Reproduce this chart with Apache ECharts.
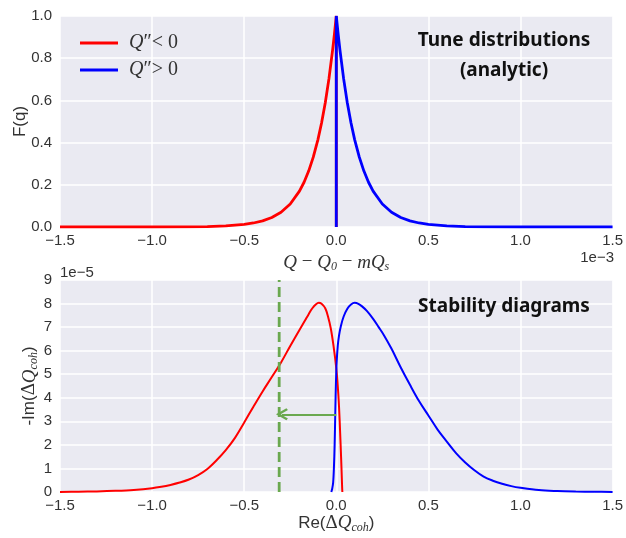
<!DOCTYPE html>
<html><head><meta charset="utf-8">
<script src="https://cdn.jsdelivr.net/npm/echarts@6/dist/echarts.min.js"></script>
<style>html,body{margin:0;padding:0;background:#fff}#c{width:626px;height:538px}</style>
</head><body><div id="c"></div>
<script>
// ---- data (x in units of 1e-3, bottom y in units of 1e-5) ----
const xTicks = [-1.5, -1.0, -0.5, 0.0, 0.5, 1.0, 1.5];
const topYTicks = [0.0, 0.2, 0.4, 0.6, 0.8, 1.0];
const bottomYTicks = [0, 1, 2, 3, 4, 5, 6, 7, 8, 9];

const topRedQ = [-1.5, -1.2, -1.0, -0.8, -0.7, -0.6, -0.5, -0.45, -0.4, -0.35, -0.3, -0.25, -0.2, -0.175, -0.15, -0.125, -0.1, -0.08, -0.06, -0.04, -0.02, -0.01, 0.0, 0.0];
const topRedF = [0.0, 0.0, 0.0001, 0.0008, 0.002, 0.005, 0.012, 0.019, 0.029, 0.045, 0.070, 0.109, 0.170, 0.212, 0.265, 0.331, 0.413, 0.493, 0.588, 0.702, 0.838, 0.915, 1.0, 0.0];
const topBlueQ = [0.0, 0.0, 0.01, 0.02, 0.04, 0.06, 0.08, 0.1, 0.125, 0.15, 0.175, 0.2, 0.25, 0.3, 0.35, 0.4, 0.45, 0.5, 0.6, 0.7, 0.8, 1.0, 1.2, 1.5];
const topBlueF = [0.0, 1.0, 0.915, 0.838, 0.702, 0.588, 0.493, 0.413, 0.331, 0.265, 0.212, 0.170, 0.109, 0.070, 0.045, 0.029, 0.019, 0.012, 0.005, 0.002, 0.0008, 0.0001, 0.0, 0.0];

const botRedRe = [-1.5, -1.4, -1.3, -1.2, -1.1, -1.0, -0.95, -0.9, -0.85, -0.8, -0.75, -0.7, -0.65, -0.6, -0.55, -0.5, -0.45, -0.4, -0.35, -0.3, -0.25, -0.2, -0.17, -0.15, -0.13, -0.11, -0.095, -0.08, -0.06, -0.045, -0.03, -0.015, 0.0, 0.008, 0.015, 0.021, 0.026, 0.03, 0.032, 0.033];
const botRedIm = [0.0, 0.01, 0.025, 0.05, 0.09, 0.16, 0.22, 0.3, 0.4, 0.53, 0.72, 0.98, 1.35, 1.78, 2.3, 2.95, 3.62, 4.27, 4.88, 5.5, 6.2, 6.88, 7.28, 7.55, 7.8, 7.97, 8.03, 7.99, 7.8, 7.45, 6.95, 6.2, 5.25, 4.5, 3.6, 2.5, 1.5, 0.6, 0.15, 0.0];
const botBlueRe = [-0.027, -0.022, -0.017, -0.013, -0.009, -0.005, -0.002, 0.002, 0.008, 0.015, 0.025, 0.04, 0.06, 0.08, 0.1, 0.12, 0.14, 0.167, 0.2, 0.23, 0.257, 0.3, 0.348, 0.4, 0.45, 0.5, 0.55, 0.6, 0.65, 0.7, 0.75, 0.8, 0.85, 0.9, 0.95, 1.0, 1.1, 1.2, 1.3, 1.4, 1.5];
const botBlueIm = [0.0, 0.15, 0.4, 1.0, 2.0, 3.5, 4.6, 5.5, 6.2, 6.65, 7.05, 7.45, 7.78, 7.96, 8.03, 7.99, 7.88, 7.68, 7.35, 7.0, 6.68, 6.08, 5.32, 4.55, 3.85, 3.25, 2.65, 2.14, 1.65, 1.25, 0.92, 0.65, 0.48, 0.35, 0.25, 0.18, 0.08, 0.04, 0.02, 0.01, 0.0];

const thresholdRe = -0.31;          // green dashed line
const arrowFrom = [0.0, 3.3];        // green arrow
const arrowTo = [-0.295, 3.3];

const seriesNames = ['Q″< 0', 'Q″> 0'];
// --------------------------------------------------------------

const zip = (a, b) => a.map((v, i) => [v, b[i]]);
const fmtX = v => (v < 0 ? '\u2212' : '') + Math.abs(v).toFixed(1);
const SANS = '"Liberation Sans", Arial, sans-serif';
const SERIF = '"Liberation Serif", "DejaVu Serif", serif';
const BOLD = '"Noto Sans", sans-serif';
const BG = '#EAEAF2';

const axisCommon = {
  axisLine: {show: false}, axisTick: {show: false},
  splitLine: {show: true, lineStyle: {color: '#ffffff', width: 1.5}},
};
const mathRich = {
  n: {fontFamily: SANS, fontSize: 17, color: '#333'},
  g: {fontFamily: SERIF, fontSize: 19, color: '#333'},
  i: {fontFamily: SERIF, fontStyle: 'italic', fontSize: 19, color: '#333'},
  s: {fontFamily: SERIF, fontStyle: 'italic', fontSize: 12, color: '#333', padding: [9, 0, 0, 0]}
};

const chart = echarts.init(document.getElementById('c'), null, {renderer: 'canvas'});
chart.setOption({
  animation: false,
  backgroundColor: '#ffffff',
  grid: [
    {left: 60, right: 13, top: 16, height: 211, show: true, backgroundColor: BG, borderWidth: 0},
    {left: 60, right: 13, top: 280, height: 212, show: true, backgroundColor: BG, borderWidth: 0}
  ],
  xAxis: [
    Object.assign({}, axisCommon, {
      gridIndex: 0, type: 'value', min: -1.5, max: 1.5, interval: 0.5,
      axisLabel: {formatter: fmtX, color: '#333', fontSize: 15, fontFamily: SANS, margin: 6},
      name: '{i|Q}{m| − }{i|Q}{s|0}{m| − }{i|mQ}{s|s}', nameLocation: 'middle', nameGap: 25,
      nameTextStyle: {rich: {
        i: {fontFamily: SERIF, fontStyle: 'italic', fontSize: 19, color: '#333'},
        m: {fontFamily: SERIF, fontSize: 19, color: '#333'},
        s: {fontFamily: SERIF, fontStyle: 'italic', fontSize: 12, color: '#333', padding: [9, 0, 0, 0]}
      }}
    }),
    Object.assign({}, axisCommon, {
      gridIndex: 1, type: 'value', min: -1.5, max: 1.5, interval: 0.5,
      axisLabel: {formatter: fmtX, color: '#333', fontSize: 15, fontFamily: SANS, margin: 6},
      name: '{n|Re(}{g|Δ}{i|Q}{s|coh}{n|)}', nameLocation: 'middle', nameGap: 17,
      nameTextStyle: {rich: mathRich}
    })
  ],
  yAxis: [
    Object.assign({}, axisCommon, {
      gridIndex: 0, type: 'value', min: 0, max: 1, interval: 0.2,
      axisLabel: {formatter: v => v.toFixed(1), color: '#333', fontSize: 15, fontFamily: SANS, margin: 8},
      name: 'F(q)', nameLocation: 'middle', nameGap: 31, nameRotate: 90, nameMoveOverlap: false,
      nameTextStyle: {fontFamily: SANS, fontSize: 17, color: '#333'}
    }),
    Object.assign({}, axisCommon, {
      gridIndex: 1, type: 'value', min: 0, max: 9, interval: 1,
      axisLabel: {formatter: v => String(v), color: '#333', fontSize: 15, fontFamily: SANS, margin: 8},
      name: '{n|-Im(}{g|Δ}{i|Q}{s|coh}{n|)}', nameLocation: 'middle', nameGap: 20, nameRotate: 90, nameMoveOverlap: false,
      nameTextStyle: {rich: mathRich}
    })
  ],
  legend: {
    orient: 'vertical', left: 75, top: 28, itemWidth: 38, itemHeight: 3, itemGap: 7,
    icon: 'rect',
    data: seriesNames,
    formatter: name => name === seriesNames[0] ? '{i|Q}{n|″< 0}' : '{i|Q}{n|″> 0}',
    textStyle: {padding: [0, 0, 0, 6], rich: {
      i: {fontFamily: SERIF, fontStyle: 'italic', fontSize: 20, color: '#333'},
      n: {fontFamily: SERIF, fontSize: 20, color: '#333'}
    }}
  },
  graphic: [
    {type: 'text', x: 504, y: 31, z: 100, silent: true, style: {text: 'Tune distributions', fontFamily: BOLD, fontWeight: 'bold', fontSize: 19, fill: '#111', align: 'center'}},
    {type: 'text', x: 504, y: 61, z: 100, silent: true, style: {text: '(analytic)', fontFamily: BOLD, fontWeight: 'bold', fontSize: 19, fill: '#111', align: 'center'}},
    {type: 'text', x: 504, y: 297, z: 100, silent: true, style: {text: 'Stability diagrams', fontFamily: BOLD, fontWeight: 'bold', fontSize: 19, fill: '#111', align: 'center'}},
    {type: 'text', x: 614, y: 250, z: 100, style: {text: '1e\u22123', fontFamily: SANS, fontSize: 15, fill: '#333', align: 'right'}},
    {type: 'text', x: 60, y: 265, z: 100, style: {text: '1e\u22125', fontFamily: SANS, fontSize: 15, fill: '#333', align: 'left'}}
  ],
  series: [
    {name: seriesNames[0], type: 'line', xAxisIndex: 0, yAxisIndex: 0, data: zip(topRedQ, topRedF),
     showSymbol: false, smooth: false, lineStyle: {color: '#ff0000', width: 2.8}, itemStyle: {color: '#ff0000'}},
    {name: seriesNames[1], type: 'line', xAxisIndex: 0, yAxisIndex: 0, data: zip(topBlueQ, topBlueF),
     showSymbol: false, lineStyle: {color: '#0000ff', width: 2.8}, itemStyle: {color: '#0000ff'}},
    {name: seriesNames[0], type: 'line', xAxisIndex: 1, yAxisIndex: 1, data: zip(botRedRe, botRedIm),
     showSymbol: false, smooth: 0.35, lineStyle: {color: '#ff0000', width: 2}, itemStyle: {color: '#ff0000'}},
    {name: seriesNames[1], type: 'line', xAxisIndex: 1, yAxisIndex: 1, data: zip(botBlueRe, botBlueIm),
     showSymbol: false, smooth: 0.35, lineStyle: {color: '#0000ff', width: 2}, itemStyle: {color: '#0000ff'}},
    {name: 'threshold', type: 'line', xAxisIndex: 1, yAxisIndex: 1, data: [[thresholdRe, 0], [thresholdRe, 9]],
     showSymbol: false, lineStyle: {color: '#6aa84f', width: 2.8, type: [10, 5]}, z: 3},
    {name: 'shift', type: 'lines', coordinateSystem: 'cartesian2d', xAxisIndex: 1, yAxisIndex: 1,
     data: [{coords: [arrowFrom, arrowTo]}],
     symbol: ['none', 'path://M5,0 L10,8 L8.6,9.2 L5,3.6 L1.4,9.2 L0,8 Z'], symbolSize: [16, 12],
     lineStyle: {color: '#6aa84f', width: 2.2, opacity: 1, curveness: 0}, z: 4}
  ]
});
</script>
</body></html>
